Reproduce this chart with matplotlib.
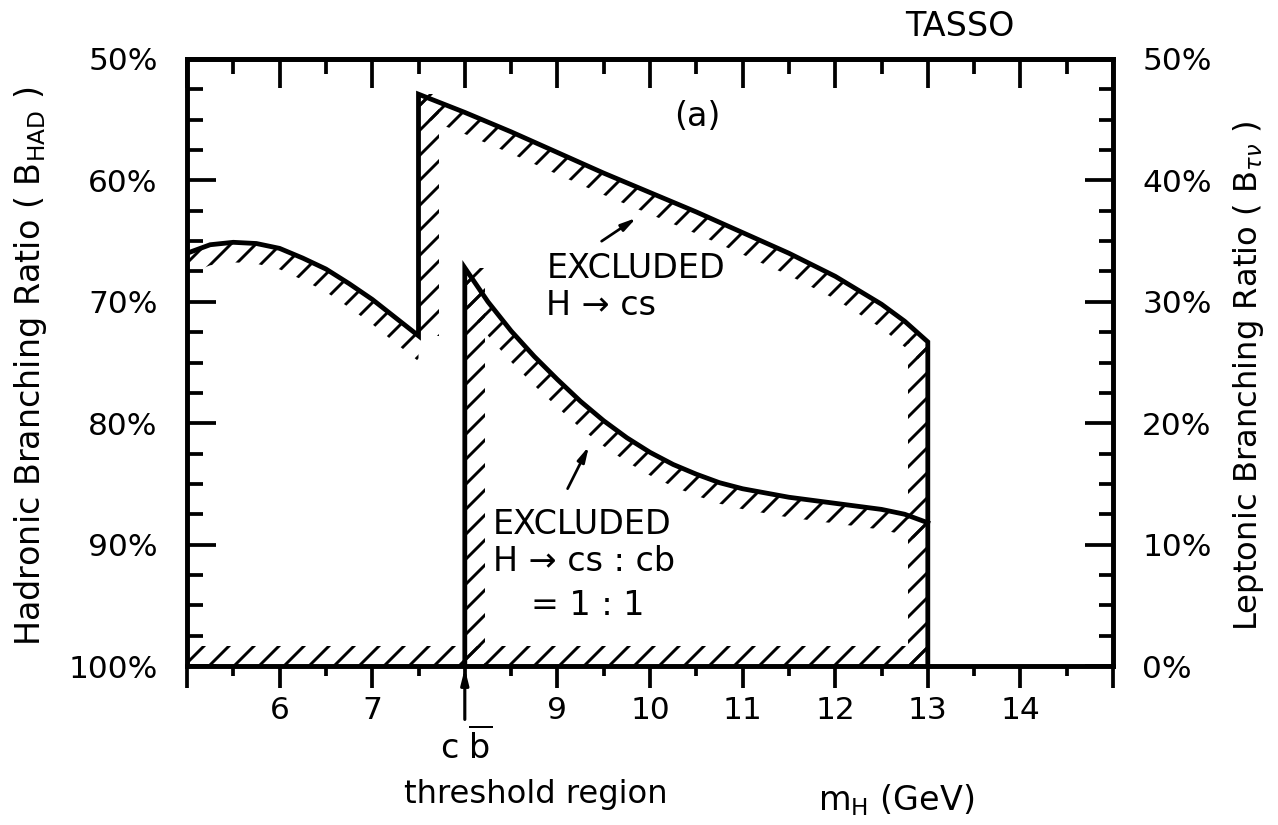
import matplotlib.pyplot as plt
import numpy as np
from matplotlib.patches import Polygon
from matplotlib.ticker import MultipleLocator

plt.rcParams["font.family"] = "DejaVu Sans"
plt.rcParams["mathtext.fontset"] = "dejavusans"
plt.rcParams["hatch.linewidth"] = 1.4

# Higgs mass (GeV) vs. lower limit on the hadronic branching ratio (%)
mass_light = [5.0, 5.25, 5.5, 5.75, 6.0, 6.25, 6.5, 6.75, 7.0, 7.25, 7.5]
bhad_light = [66.0, 65.3, 65.1, 65.2, 65.6, 66.4, 67.3, 68.5, 69.8, 71.3, 72.8]

mass_cs = [7.5, 8.0, 8.5, 9.0, 9.5, 10.0, 10.5, 11.0, 11.5, 12.0, 12.5, 12.75, 13.0]
bhad_cs = [52.9, 54.4, 56.0, 57.7, 59.4, 61.0, 62.6, 64.3, 66.0, 67.9, 70.2, 71.6, 73.3]

mass_cb = [8.0, 8.25, 8.5, 8.75, 9.0, 9.25, 9.5, 9.75, 10.0, 10.25, 10.5,
           10.75, 11.0, 11.5, 12.0, 12.5, 12.75, 13.0]
bhad_cb = [67.2, 70.0, 72.4, 74.5, 76.4, 78.2, 79.8, 81.2, 82.4, 83.4, 84.2,
           84.9, 85.4, 86.1, 86.6, 87.1, 87.5, 88.2]

bhad_floor = 100.0

mass_ticks = list(range(5, 16))
mass_labels = ["", "6", "7", "", "9", "10", "11", "12", "13", "14", ""]
bhad_ticks = [50, 60, 70, 80, 90, 100]
btau_ticks = [0, 10, 20, 30, 40, 50]

W, H = 1278, 825
fig = plt.figure(figsize=(W / 150, H / 150), dpi=150)
ax = fig.add_axes([187 / W, 159 / H, 926 / W, 607 / H])
ax.set_xlim(5, 15)
ax.set_ylim(100, 50)

BAND_PX = 20


def add_band(pts):
    verts = ax.transData.inverted().transform(pts)
    ax.add_patch(Polygon(verts, closed=True, facecolor="none", edgecolor="black",
                         linewidth=0, hatch="//", zorder=1))


def hatch_below(xs, ys, up=False):
    """Hatched strip under (or over) a curve, constant width across the curve."""
    pts = ax.transData.transform(np.column_stack([xs, ys]))
    if len(pts) > 1:
        slope = np.gradient(pts[:, 1]) / np.gradient(pts[:, 0])
    else:
        slope = np.zeros(1)
    dy = BAND_PX * np.sqrt(1 + slope ** 2) * (1 if up else -1)
    outer = pts + np.column_stack([np.zeros_like(dy), dy])
    add_band(np.vstack([pts, outer[::-1]]))


def hatch_side(x, y0, y1, right=True):
    """Hatched strip beside a vertical boundary."""
    pts = ax.transData.transform([(x, y0), (x, y1)])
    dx = BAND_PX if right else -BAND_PX
    add_band(np.vstack([pts, (pts + [dx, 0])[::-1]]))


# H -> cs boundary: light curve, step up at 7.5 GeV, falling curve, drop at 13 GeV
cs_x = mass_light + mass_cs + [mass_cs[-1]]
cs_y = bhad_light + bhad_cs + [bhad_floor]
ax.plot(cs_x, cs_y, color="black", lw=2.3, zorder=3, solid_joinstyle="miter")

# H -> cs:cb = 1:1 boundary, starting at the cb threshold
cb_x = [mass_cb[0]] + mass_cb
cb_y = [bhad_floor] + bhad_cb
ax.plot(cb_x, cb_y, color="black", lw=2.3, zorder=3, solid_joinstyle="miter")

hatch_below(mass_light, bhad_light)
hatch_side(mass_cs[0], bhad_light[-1], bhad_cs[0], right=True)
hatch_below(mass_cs, bhad_cs)
hatch_side(mass_cs[-1], bhad_cs[-1], bhad_floor, right=False)
hatch_side(mass_cb[0], bhad_floor, bhad_cb[0], right=True)
hatch_below(mass_cb, bhad_cb)
hatch_below([mass_light[0], mass_cs[-1]], [bhad_floor, bhad_floor], up=True)

# axes frame and ticks
for sp in ax.spines.values():
    sp.set_linewidth(2.2)
ax.set_xticks(mass_ticks)
ax.set_xticklabels(mass_labels)
ax.xaxis.set_minor_locator(MultipleLocator(0.5))
ax.tick_params(axis="x", which="major", direction="out", length=10.5, width=1.8,
               pad=4, labelsize=15)
ax.tick_params(axis="x", which="minor", direction="out", length=5, width=1.8)

ax.set_yticks(bhad_ticks)
ax.set_yticklabels([f"{v}%" for v in bhad_ticks])
ax.yaxis.set_minor_locator(MultipleLocator(2.5))
ax.tick_params(axis="y", which="major", direction="in", length=14, width=1.8,
               pad=14, labelsize=15)
ax.tick_params(axis="y", which="minor", direction="in", length=7.5, width=1.8)
ax.set_ylabel(r"Hadronic Branching Ratio ( B$_\mathrm{HAD}$ )", fontsize=16,
              ha="center", va="center", rotation_mode="anchor")
ax.yaxis.set_label_coords(-0.1695, 0.494)

top = ax.secondary_xaxis("top")
top.set_xticks(mass_ticks)
top.set_xticklabels([])
top.xaxis.set_minor_locator(MultipleLocator(0.5))
top.tick_params(which="major", direction="in", length=14, width=1.8)
top.tick_params(which="minor", direction="in", length=7, width=1.8)
top.spines["top"].set_linewidth(2.2)

rax = ax.twinx()
rax.set_ylim(0, 50)
for sp in rax.spines.values():
    sp.set_linewidth(2.2)
rax.set_yticks(btau_ticks)
rax.set_yticklabels([f"{v}%" for v in btau_ticks])
rax.yaxis.set_minor_locator(MultipleLocator(2.5))
rax.tick_params(axis="y", which="major", direction="in", length=13.5, width=1.8,
                pad=14, labelsize=15)
rax.tick_params(axis="y", which="minor", direction="in", length=6.5, width=1.8)
rax.set_ylabel(r"Leptonic Branching Ratio ( B$_{\tau\nu}$ )", fontsize=15.5,
               ha="center", va="center", rotation_mode="anchor")
rax.yaxis.set_label_coords(1.146, 0.478)

# annotations
arrow = dict(arrowstyle="-|>,head_length=0.6,head_width=0.15", color="black", lw=1.3)
ax.text(10.51, 54.7, "(a)", fontsize=16, ha="center", va="center")
ax.text(8.88, 65.9, "EXCLUDED\nH → cs", fontsize=16, ha="left", va="top",
        linespacing=1.15)
ax.annotate("", xy=(9.89, 62.9), xytext=(9.44, 65.2), arrowprops=arrow)
ax.text(8.30, 87.0, "EXCLUDED\nH → cs : cb", fontsize=16, ha="left", va="top",
        linespacing=1.15)
ax.text(8.71, 95.8, "= 1 : 1", fontsize=16, ha="left", va="baseline")
ax.annotate("", xy=(9.36, 81.6), xytext=(9.09, 85.7), arrowprops=arrow)

# cb threshold marker below the axis
ax.annotate("", xy=(mass_cb[0], 100.2), xytext=(mass_cb[0], 104.4),
            annotation_clip=False,
            arrowprops=dict(arrowstyle="-|>,head_length=0.6,head_width=0.15",
                            color="black", lw=1.5, shrinkA=0, shrinkB=0))
fig.text(466 / W, 1 - 747 / H, r"c $\overline{\mathrm{b}}$", fontsize=16,
         ha="center", va="center")
fig.text(536 / W, 1 - 795 / H, "threshold region", fontsize=15.5,
         ha="center", va="center")
fig.text(896 / W, 1 - 800 / H, r"m$_\mathrm{H}$ (GeV)", fontsize=16,
         ha="center", va="center")
fig.text(960 / W, 1 - 27 / H, "TASSO", fontsize=16, ha="center", va="center")

fig.savefig("out.png", dpi=150)
